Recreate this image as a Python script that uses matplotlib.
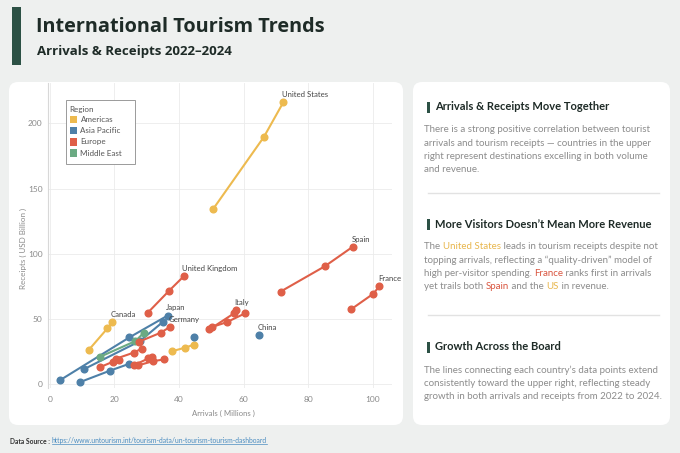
import matplotlib.pyplot as plt
from matplotlib.patches import FancyBboxPatch, Rectangle

plt.rcParams['font.family'] = ['Lato', 'DejaVu Sans']

# данные: прибытия (млн) и доходы (млрд USD) по годам 2022-2024
countries = ['United States', 'Canada', 'Mexico',
             'Japan', 'Thailand', 'Hong Kong', 'Malaysia', 'China',
             'Saudi Arabia',
             'Spain', 'France', 'United Kingdom', 'Italy', 'Turkey', 'Germany',
             'Portugal', 'Greece', 'Austria', 'Netherlands']
regions = ['Americas', 'Americas', 'Americas',
           'Asia Pacific', 'Asia Pacific', 'Asia Pacific', 'Asia Pacific', 'Asia Pacific',
           'Middle East',
           'Europe', 'Europe', 'Europe', 'Europe', 'Europe', 'Europe',
           'Europe', 'Europe', 'Europe', 'Europe']
arrivals = [[50.6, 66.3, 72.3], [12.1, 17.8, 19.3], [37.7, 41.8, 44.6],
            [3.0, 24.6, 36.5], [10.6, 27.9, 34.9], [9.3, 18.6, 24.4], [44.6], [64.7],
            [15.6, 26.5, 29.1],
            [71.5, 85.2, 93.8], [93.4, 100.2, 102.1], [30.3, 36.8, 41.5],
            [49.4, 57.0, 57.6], [50.1, 54.8, 60.4], [27.6, 34.3, 37.1],
            [15.5, 19.6, 21.5], [20.5, 25.9, 28.4], [25.9, 30.5, 31.7], [27.2, 32.0, 35.3]]
receipts = [[134.4, 189.6, 216.1], [26.4, 42.7, 47.5], [25.1, 27.9, 30.2],
            [2.8, 35.8, 52.6], [11.5, 33.0, 47.5], [1.5, 10.3, 15.4], [36.3], [37.5],
            [21.0, 33.0, 39.4],
            [71.0, 90.4, 105.3], [57.5, 69.3, 75.1], [54.7, 71.3, 82.8],
            [41.9, 54.2, 56.5], [43.7, 47.5, 54.2], [32.5, 39.4, 43.7],
            [13.0, 17.2, 18.2], [19.5, 24.1, 27.1], [14.3, 19.7, 20.7], [14.3, 17.6, 18.9]]
labelled = ['United States', 'Canada', 'Japan', 'Germany', 'China',
            'Spain', 'France', 'United Kingdom', 'Italy']
region_names = ['Americas', 'Asia Pacific', 'Europe', 'Middle East']
region_colors = {'Americas': '#EDBA4F', 'Asia Pacific': '#4E80A8',
                 'Europe': '#DF5F48', 'Middle East': '#6BAA83'}

W, H = 680, 453
fig = plt.figure(figsize=(W / 100, H / 100), dpi=100, facecolor='#EEF0EF')

# фоновая ось в пикселях
bg = fig.add_axes([0, 0, 1, 1], zorder=0)
bg.set_xlim(0, W)
bg.set_ylim(H, 0)
bg.axis('off')

bg.add_patch(FancyBboxPatch((9, 82), 394, 343, boxstyle='round,pad=0,rounding_size=9',
                            fc='white', ec='none'))
bg.add_patch(FancyBboxPatch((413, 82), 257, 343, boxstyle='round,pad=0,rounding_size=9',
                            fc='white', ec='none'))

# заголовок
bg.add_patch(Rectangle((12, 7), 9, 58, fc='#2C5145', ec='none'))
bg.text(36, 27, 'International Tourism Trends', fontsize=14.3, fontweight='bold',
        family=['Open Sans', 'DejaVu Sans'], color='#1E2B27', va='center', ha='left')
bg.text(37, 52, 'Arrivals & Receipts 2022\u20132024', fontsize=9.5, fontweight='bold',
        family=['Open Sans', 'DejaVu Sans'], color='#1E2B27', va='center', ha='left')

# график
ax = fig.add_axes([48 / W, 1 - 388 / H, 344 / W, 305 / H], zorder=1)
ax.set_facecolor('none')
for name, reg, xs, ys in zip(countries, regions, arrivals, receipts):
    c = region_colors[reg]
    ax.plot(xs, ys, color=c, lw=1.5, marker='o', ms=4.8, zorder=3)
    if name in labelled:
        ax.annotate(name, (xs[-1], ys[-1]), xytext=(-1, 3), textcoords='offset points',
                    fontsize=5.6, color='#444444', ha='left', va='bottom')

ax.set_xlim(-0.6, 106)
ax.set_ylim(-3, 231)
ax.set_xticks([0, 20, 40, 60, 80, 100])
ax.set_yticks([0, 50, 100, 150, 200])
ax.grid(True, color='#EBEBEB', lw=0.6)
ax.set_axisbelow(True)
for s in ['top', 'right', 'bottom']:
    ax.spines[s].set_visible(False)
ax.spines['left'].set_color('#D8D8D8')
ax.tick_params(length=0, labelsize=6, labelcolor='#8A8A8A')
ax.tick_params(axis='x', pad=6)
ax.tick_params(axis='y', pad=4)

# легенда (рамка Tableau) поверх линий
px = bg.transData
ax.add_patch(Rectangle((65.5, 100), 69.5, 64, fc='white', ec='#9A9A9A', lw=0.7,
                       transform=px, clip_on=False, zorder=10))
ax.text(69, 109.5, 'Region', fontsize=5.8, color='#555555', va='center', ha='left',
        transform=px, zorder=11)
for i, r in enumerate(region_names):
    yy = 119.3 + i * 11.3
    ax.add_patch(Rectangle((69.5, yy - 3.8), 7.6, 7.6, fc=region_colors[r], ec='none',
                           transform=px, clip_on=False, zorder=11))
    ax.text(80.5, yy, r, fontsize=5.8, color='#555555', va='center', ha='left',
            transform=px, zorder=11)

bg.text(23, 248, 'Receipts ( USD Billion )', rotation=90, fontsize=5.8, color='#8A8A8A',
        ha='center', va='center')
bg.text(223, 413, 'Arrivals ( Millions )', fontsize=5.6, color='#8A8A8A', ha='center', va='center')

# правая панель
GRAY = '#8C8C8C'
YEL = '#E8B64C'
RED = '#D9553F'


def heading(y, s):
    bg.add_patch(Rectangle((426.5, y - 5.5), 3, 11, fc='#2C5145', ec='none'))
    bg.text(435, y, s, fontsize=8.0, fontweight='bold', color='#1E2B27', va='center', ha='left')


def rich_line(y, parts):
    t = None
    for s, c in parts:
        if t is None:
            t = bg.text(424, y, s, fontsize=7, color=c, va='center', ha='left')
        else:
            t = bg.annotate(s, xy=(1, 0), xycoords=t, fontsize=7, color=c, va='bottom', ha='left')


heading(107, 'Arrivals & Receipts Move Together')
body1 = ['There is a strong positive correlation between tourist',
         'arrivals and tourism receipts \u2014 countries in the upper',
         'right represent destinations excelling in both volume',
         'and revenue.']
for i, s in enumerate(body1):
    rich_line(130 + i * 13.3, [(s, GRAY)])
bg.plot([428, 659], [193, 193], color='#E2E2E2', lw=1)

heading(224, 'More Visitors Doesn\u2019t Mean More Revenue')
rich_line(246.7, [('The ', GRAY), ('United States', YEL), (' leads in tourism receipts despite not', GRAY)])
rich_line(260, [('topping arrivals, reflecting a \u201cquality-driven\u201d model of', GRAY)])
rich_line(273.3, [('high per-visitor spending. ', GRAY), ('France', RED), (' ranks first in arrivals', GRAY)])
rich_line(286.7, [('yet trails both ', GRAY), ('Spain', RED), (' and the ', GRAY), ('US', YEL), (' in revenue.', GRAY)])
bg.plot([428, 659], [315, 315], color='#E2E2E2', lw=1)

heading(347, 'Growth Across the Board')
body3 = ['The lines connecting each country\u2019s data points extend',
         'consistently toward the upper right, reflecting steady',
         'growth in both arrivals and receipts from 2022 to 2024.']
for i, s in enumerate(body3):
    rich_line(370 + i * 13.3, [(s, GRAY)])

# источник
bg.text(10, 441, 'Data Source :', fontsize=4.9, fontweight='bold', color='#333333',
        va='center', ha='left')
link = bg.text(52, 441, 'https://www.untourism.int/tourism-data/un-tourism-tourism-dashboard',
               fontsize=4.9, color='#4A8CC0', va='center', ha='left')
fig.canvas.draw()
bb = link.get_window_extent(fig.canvas.get_renderer())
p0 = bg.transData.inverted().transform((bb.x0, bb.y0))
p1 = bg.transData.inverted().transform((bb.x1, bb.y0))
bg.plot([p0[0], p1[0]], [p0[1] - 0.3, p1[1] - 0.3], color='#4A8CC0', lw=0.5)

fig.savefig('out.png', dpi=100, facecolor=fig.get_facecolor())
